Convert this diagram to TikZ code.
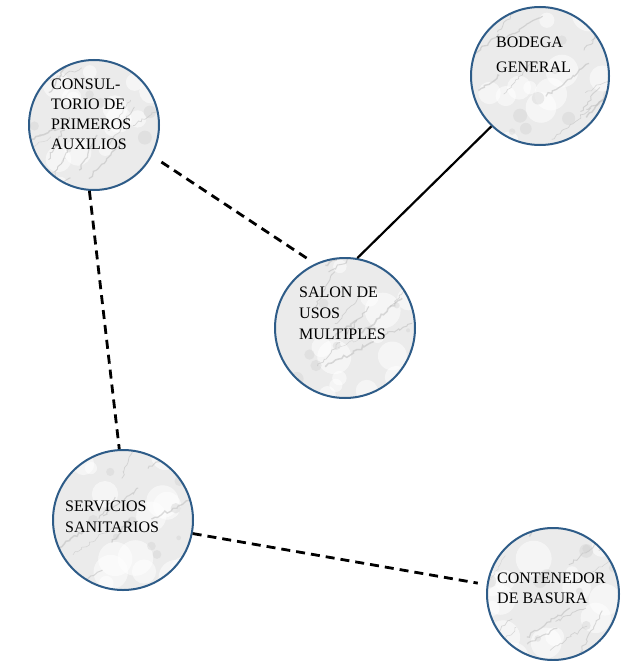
\documentclass[tikz,border=0pt]{standalone}
\usepackage{fontspec}
\setmainfont{Liberation Serif}
\usetikzlibrary{calc,decorations.pathmorphing}
\definecolor{ringblue}{HTML}{2E5C88}
\tikzset{
  marble/.style={circle, draw=ringblue, line width=2pt, inner sep=0pt, minimum size=#1,
    path picture={
      \fill[gray!16] (path picture bounding box.south west) rectangle (path picture bounding box.north east);
      \foreach \k in {1,...,14}{
        \fill[white, opacity=0.55]
          ($(path picture bounding box.center)+(-70pt+140pt*rnd,-70pt+140pt*rnd)$) circle (6pt+12pt*rnd);
      }
      \foreach \k in {1,...,16}{
        \draw[gray!55, opacity=0.5, line width=0.3pt+1.3pt*rnd,
              decorate, decoration={random steps, segment length=3pt, amplitude=1.6pt}]
          ($(path picture bounding box.center)+(-75pt+150pt*rnd,-75pt+150pt*rnd)$) -- ++(30+20*rnd:20pt+40pt*rnd);
      }
      \foreach \k in {1,...,10}{
        \fill[gray!40, opacity=0.35]
          ($(path picture bounding box.center)+(-70pt+140pt*rnd,-70pt+140pt*rnd)$) circle (2pt+5pt*rnd);
      }
    }},
  lbl/.style={anchor=west, inner sep=0pt, align=left, text=black,
    font=\fontsize{16}{#1}\selectfont},
  dashlink/.style={line width=2.8pt, dash pattern=on 9pt off 6pt},
  solidlink/.style={line width=2.2pt}
}
\begin{document}
\pgfmathsetseed{11}
\begin{tikzpicture}[x=1pt,y=-1pt]
\useasboundingbox (0,0) rectangle (625,661);
% circles
\node[marble=130pt] (cons) at (94,125) {};
\node[marble=138pt] (bod) at (540,76) {};
\node[marble=140pt] (salon) at (345,328) {};
\node[marble=140pt] (serv) at (123,520) {};
\node[marble=132pt] (cont) at (553,594) {};
% labels
\node[lbl=20] (consT) at (51,114.5) {CONSUL-\\TORIO DE\\PRIMEROS\\AUXILIOS};
\node[lbl=25] (bodT) at (496,55) {BODEGA\\GENERAL};
\node[lbl=21] (salonT) at (299,313) {SALON DE\\USOS\\MULTIPLES};
\node[lbl=21] (servT) at (65,517) {SERVICIOS\\SANITARIOS};
\node[lbl=20] (contT) at (497,588) {CONTENEDOR\\DE BASURA};
% connectors
\draw[dashlink, shorten <=11pt, shorten >=7pt] (cons.-28) -- (salon.115);
\draw[solidlink] (bod.226) -- (salon.80);
\draw[dashlink] (cons.-94) -- (serv.93);
\draw[dashlink, shorten >=9pt] (serv.-11) -- (cont.172);
\end{tikzpicture}
\end{document}
